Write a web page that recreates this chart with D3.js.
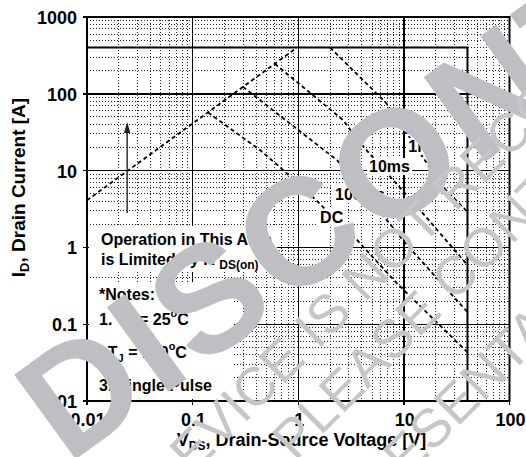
<!DOCTYPE html>
<html>
<head>
<meta charset="utf-8">
<script src="https://cdn.jsdelivr.net/npm/d3@7"></script>
<style>
  html, body { margin: 0; padding: 0; background: #fff; }
  svg { display: block; font-family: 'Liberation Sans', Arial, sans-serif; }
</style>
</head>
<body>
<div id="chart"></div>
<script>
const WIDTH = 526;
const HEIGHT = 457;

// axis ticks
const xTicks = [0.01, 0.1, 1, 10, 100];
const xTickLabels = ['0.01', '0.1', '1', '10', '100'];
const yTicks = [0.01, 0.1, 1, 10, 100, 1000];
const yTickLabels = ['0.01', '0.1', '1', '10', '100', '1000'];

// package limits
const currentLimit = 400; // A
const voltageLimit = 40; // V

// SOA curves, [V, A]
const rdsLimit = [[0.01, 4.1], [0.93, 382]];
const curve1ms = [[2.0, 400], [6.8, 76], [23.5, 6.1], [40, 2.9]];
const curve10ms = [[0.6, 246], [2.65, 45.6], [3.85, 22.9], [14.2, 3.07], [40, 0.59]];
const curve100ms = [[0.3, 123], [1.61, 20.3], [2.33, 13.7], [6.9, 2.27], [10.3, 1.14], [40, 0.144]];
const curveDC = [[0.14, 57], [0.435, 18.5], [0.67, 11.1], [1.38, 4.5], [3.6, 1.25], [8.6, 0.34], [40, 0.043]];

// curve labels and where they sit, [V, A]
const curveNames = ['1ms', '10ms', '100ms', 'DC'];
const curveLabelAt = [[11.0, 17.5], [4.68, 9.6], [2.23, 4.14], [1.61, 2.08]];

// arrow, [V, A from, A to]
const arrowAt = [0.024, 2.8, 43];

const svg = d3
  .select('#chart')
  .append('svg')
  .attr('width', WIDTH)
  .attr('height', HEIGHT);

svg.append('rect').attr('width', WIDTH).attr('height', HEIGHT).attr('fill', '#fff');

// scales
const x = d3.scaleLog().domain([0.01, 100]).range([87, 509.5]);
const y = d3.scaleLog().domain([0.01, 1000]).range([401, 17]);
const [x0, x1] = x.range();
const [y0, y1] = y.range();

const xMinor = xTicks.slice(0, -1).flatMap((d) => d3.range(2, 10).map((k) => d * k));
const yMinor = yTicks.slice(0, -1).flatMap((d) => d3.range(2, 10).map((k) => d * k));

// minor grid
const grid = svg.append('g').attr('shape-rendering', 'crispEdges');
grid
  .selectAll('line.vx')
  .data(xMinor)
  .join('line')
  .attr('class', 'vx')
  .attr('x1', (d) => x(d))
  .attr('x2', (d) => x(d))
  .attr('y1', y1)
  .attr('y2', y0)
  .attr('stroke', '#222')
  .attr('stroke-width', 1)
  .attr('stroke-dasharray', '1,2');
grid
  .selectAll('line.hy')
  .data(yMinor)
  .join('line')
  .attr('class', 'hy')
  .attr('x1', x0)
  .attr('x2', x1)
  .attr('y1', (d) => y(d))
  .attr('y2', (d) => y(d))
  .attr('stroke', '#222')
  .attr('stroke-width', 1)
  .attr('stroke-dasharray', '1,2');

// major grid + little outside ticks
grid
  .selectAll('line.mx')
  .data(xTicks)
  .join('line')
  .attr('class', 'mx')
  .attr('x1', (d) => x(d))
  .attr('x2', (d) => x(d))
  .attr('y1', y1)
  .attr('y2', y0 + 4)
  .attr('stroke', '#000')
  .attr('stroke-width', 1.4);
grid
  .selectAll('line.my')
  .data(yTicks)
  .join('line')
  .attr('class', 'my')
  .attr('x1', x0 - 4)
  .attr('x2', x1)
  .attr('y1', (d) => y(d))
  .attr('y2', (d) => y(d))
  .attr('stroke', '#000')
  .attr('stroke-width', 1.4);

// white boxes behind the notes
svg.append('rect').attr('x', x0 + 2).attr('y', 226).attr('width', 188).attr('height', 46).attr('fill', '#fff');
svg.append('rect').attr('x', x0 + 2).attr('y', 282).attr('width', 145).attr('height', 117).attr('fill', '#fff');

// frame
svg
  .append('rect')
  .attr('x', x0)
  .attr('y', y1)
  .attr('width', x1 - x0)
  .attr('height', y0 - y1)
  .attr('fill', 'none')
  .attr('stroke', '#000')
  .attr('stroke-width', 2);

// current / voltage limit box
svg
  .append('path')
  .attr('d', `M${x0},${y(currentLimit)}H${x(voltageLimit)}V${y0}`)
  .attr('fill', 'none')
  .attr('stroke', '#000')
  .attr('stroke-width', 2);

// SOA dashed curves
const line = d3
  .line()
  .x((d) => x(d[0]))
  .y((d) => y(d[1]));
svg
  .selectAll('path.soa')
  .data([rdsLimit, curve1ms, curve10ms, curve100ms, curveDC])
  .join('path')
  .attr('class', 'soa')
  .attr('d', line)
  .attr('fill', 'none')
  .attr('stroke', '#000')
  .attr('stroke-width', 1.8)
  .attr('stroke-dasharray', '4,3');

// curve labels
const labels = svg
  .selectAll('g.lbl')
  .data(curveNames)
  .join('g')
  .attr('class', 'lbl')
  .attr('transform', (d, i) => `translate(${x(curveLabelAt[i][0])},${y(curveLabelAt[i][1])})`);
labels
  .append('text')
  .attr('font-size', 16)
  .attr('font-weight', 'bold')
  .text((d) => d)
  .each(function () {
    const b = this.getBBox();
    d3.select(this.parentNode)
      .insert('rect', 'text')
      .attr('x', b.x - 2)
      .attr('y', b.y)
      .attr('width', b.width + 4)
      .attr('height', b.height)
      .attr('fill', '#fff');
  });

// arrow
const ax = x(arrowAt[0]);
svg
  .append('line')
  .attr('x1', ax)
  .attr('x2', ax)
  .attr('y1', y(arrowAt[1]))
  .attr('y2', y(arrowAt[2]) + 9)
  .attr('stroke', '#333')
  .attr('stroke-width', 1.5);
svg
  .append('path')
  .attr('d', `M${ax},${y(arrowAt[2])}L${ax - 3.2},${y(arrowAt[2]) + 11}L${ax + 3.2},${y(arrowAt[2]) + 11}Z`)
  .attr('fill', '#222');

// notes text
const notes = svg.append('g').attr('font-size', 16).attr('font-weight', 'bold').attr('fill', '#000');
notes.append('text').attr('x', 101).attr('y', 245).text('Operation in This Area');
const rds = notes.append('text').attr('x', 101).attr('y', 265);
rds.append('tspan').text('is Limited by R ');
rds.append('tspan').attr('font-size', 12).attr('dy', 4).text('DS(on)');
notes.append('text').attr('x', 99).attr('y', 300).text('*Notes:');

function noteRow(xp, yp, num, sub, value) {
  const t = notes.append('text').attr('x', xp).attr('y', yp);
  t.append('tspan').text(`${num}. T`);
  t.append('tspan').attr('font-size', 11).attr('dy', 4).text(sub);
  t.append('tspan').attr('dy', -4).text(` = ${value}`);
  t.append('tspan').attr('font-size', 11).attr('dy', -8).text('o');
  t.append('tspan').attr('dy', 8).text('C');
}
noteRow(99, 325, 1, 'C', 25);
noteRow(90, 358, 2, 'J', 150);
notes.append('text').attr('x', 99).attr('y', 391).text('3. Single Pulse');

// tick labels
svg
  .append('g')
  .attr('font-size', 18)
  .attr('font-weight', 'bold')
  .attr('text-anchor', 'end')
  .selectAll('text')
  .data(yTicks)
  .join('text')
  .attr('x', x0 - 10)
  .attr('y', (d) => y(d) + 7)
  .text((d, i) => yTickLabels[i]);
svg
  .append('g')
  .attr('font-size', 18)
  .attr('font-weight', 'bold')
  .attr('text-anchor', 'middle')
  .selectAll('text')
  .data(xTicks)
  .join('text')
  .attr('x', (d) => x(d) + 1)
  .attr('y', 426)
  .text((d, i) => xTickLabels[i]);

// axis titles
const yTitle = svg
  .append('text')
  .attr('transform', 'translate(24.5,187.5) rotate(-90)')
  .attr('text-anchor', 'middle')
  .attr('font-size', 19)
  .attr('font-weight', 'bold');
yTitle.append('tspan').text('I');
yTitle.append('tspan').attr('font-size', 13).attr('dy', 4).text('D');
yTitle.append('tspan').attr('dy', -4).text(', Drain Current [A]');

const xTitle = svg
  .append('text')
  .attr('x', 301.5)
  .attr('y', 446)
  .attr('text-anchor', 'middle')
  .attr('font-size', 18)
  .attr('font-weight', 'bold');
xTitle.append('tspan').text('V');
xTitle.append('tspan').attr('font-size', 12).attr('dy', 4).text('DS');
xTitle.append('tspan').attr('dy', -4).text(', Drain-Source Voltage [V]');

// watermark on top
const wm = svg.append('g').attr('fill', '#bfbfc3');
wm.append('text')
  .attr('transform', 'translate(67.4,465.3) rotate(-36)')
  .attr('font-size', 152)
  .attr('font-weight', 'bold')
  .attr('letter-spacing', 5)
  .text('DISCONTINUED');
const notice = [
  ['DEVICE IS NOT RECOMMENDED', 165, 503],
  ['PLEASE CONTACT', 295, 462],
  ['REPRESENTATIVE', 300, 585],
];
wm.selectAll('text.notice')
  .data(notice)
  .join('text')
  .attr('class', 'notice')
  .attr('transform', (d) => `translate(${d[1]},${d[2]}) rotate(-45)`)
  .attr('font-size', 54)
  .attr('fill', '#c6c6ca')
  .text((d) => d[0]);
</script>
</body>
</html>
